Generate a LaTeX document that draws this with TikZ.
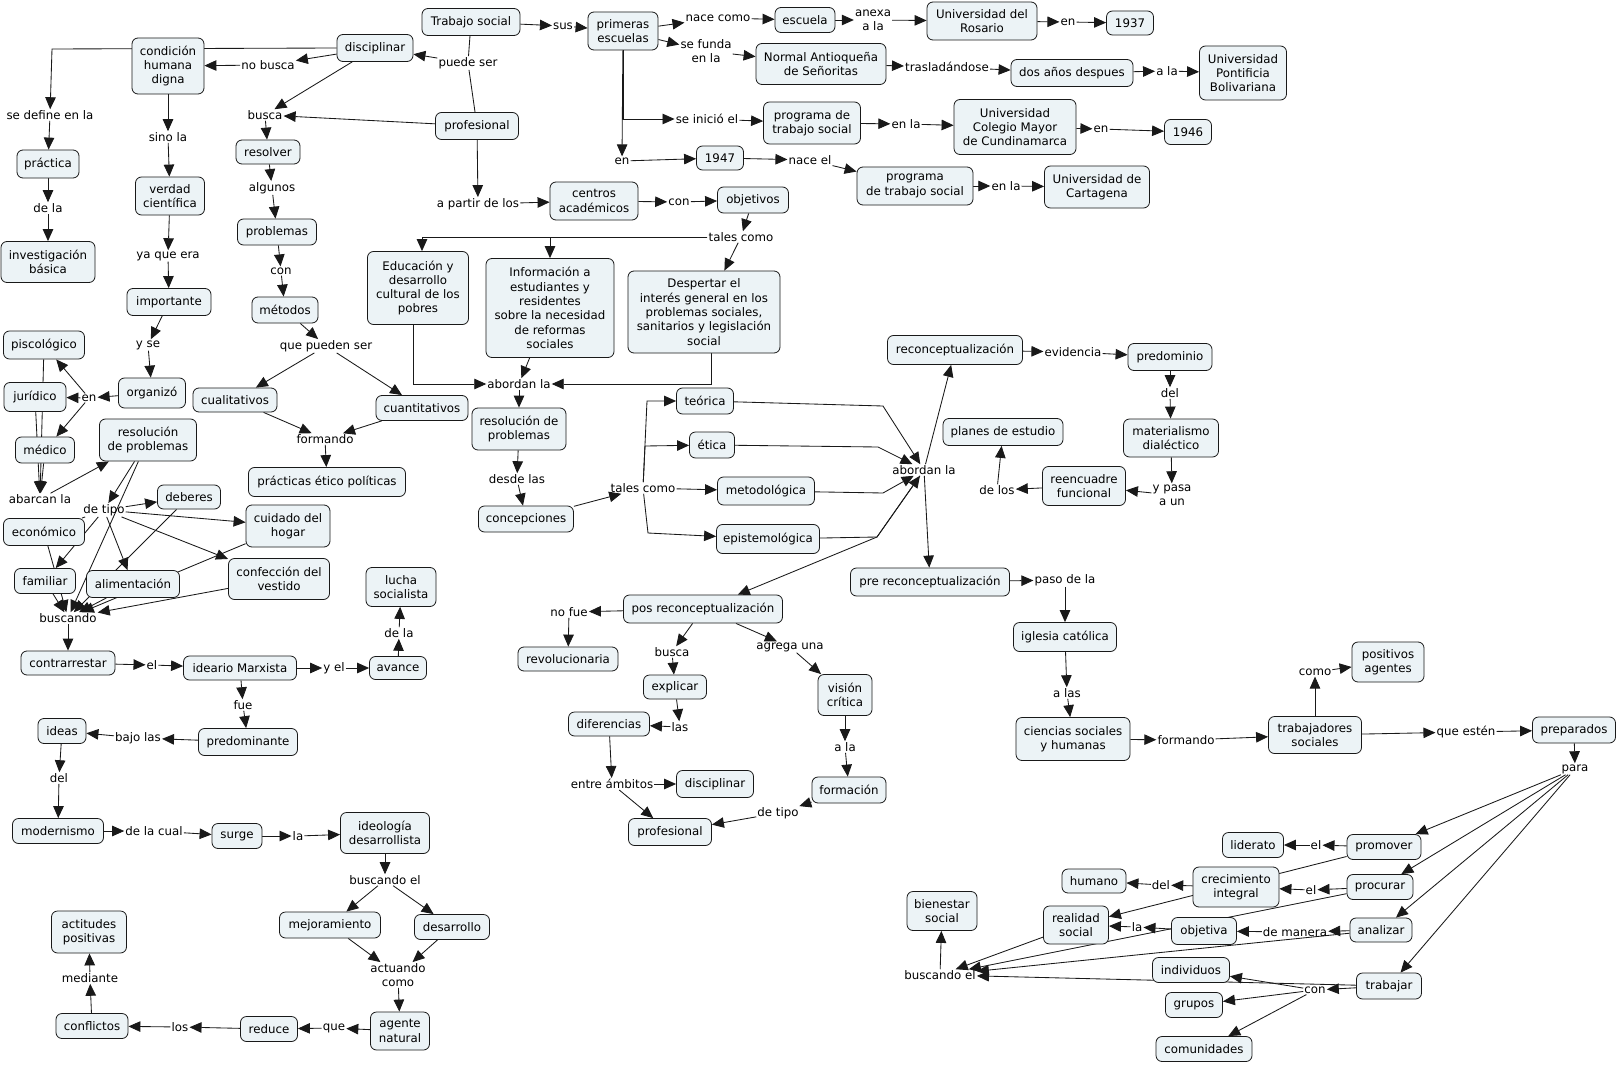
\documentclass[tikz,border=0pt]{standalone}
\usepackage{fontspec}
\setmainfont{DejaVu Sans}
\usetikzlibrary{arrows.meta}
\pgfdeclarelayer{bg}
\pgfsetlayers{bg,main}
\definecolor{cfill}{RGB}{236,243,246}
\definecolor{cline}{RGB}{25,25,25}
\newcommand\mya[2]{\draw[ar] (#1) -- (#2);}
\begin{document}
\begin{tikzpicture}[x=1pt,y=-1pt,
  cc/.style={draw=cline,line width=0.8pt,rounded corners=6pt,fill=cfill,align=center,inner sep=1pt,font=\fontsize{11.8}{14.3}\selectfont},
  sz/.style 2 args={minimum width=#1pt,minimum height=#2pt},
  lp/.style={inner sep=1pt,align=center,font=\fontsize{11.8}{14.3}\selectfont},
  ar/.style={draw=cline,line width=0.85pt,-{Triangle[length=12pt,width=10.5pt]}},
  ln/.style={draw=cline,line width=0.85pt}]
\useasboundingbox (0,0) rectangle (1618,1065);
% ---------- concepts
\node[cc,sz={98}{27}] (ts) at (471,22) {Trabajo social};
\node[cc,sz={76}{27}] (disc) at (375,48) {disciplinar};
\node[cc,sz={72}{56}] (cond) at (168,66) {condición\\humana\\digna};
\node[cc,sz={62}{28}] (prac) at (48,164) {práctica};
\node[cc,sz={94}{41}] (invb) at (48,262) {investigación\\básica};
\node[cc,sz={69}{38}] (verd) at (170,196) {verdad\\científica};
\node[cc,sz={84}{27}] (impo) at (169,302) {importante};
\node[cc,sz={83}{27}] (prof) at (477,126) {profesional};
\node[cc,sz={64}{24}] (resol) at (268,152) {resolver};
\node[cc,sz={79}{26}] (probl) at (277,232) {problemas};
\node[cc,sz={66}{26}] (meto) at (285,310) {métodos};
\node[cc,sz={81}{28}] (pisc) at (44,345) {piscológico};
\node[cc,sz={62}{29}] (jur) at (35,397) {jurídico};
\node[cc,sz={67}{30}] (orga) at (152,393) {organizó};
\node[cc,sz={59}{26}] (med) at (45,450) {médico};
\node[cc,sz={97}{42}] (resp1) at (148,440) {resolución\\de problemas};
\node[cc,sz={84}{24}] (cual) at (235,400) {cualitativos};
\node[cc,sz={92}{25}] (cuan) at (422,408) {cuantitativos};
\node[cc,sz={157}{29}] (prct) at (327,482) {prácticas ético políticas};
\node[cc,sz={63}{24}] (deb) at (189,497) {deberes};
\node[cc,sz={84}{42}] (cuid) at (288,526) {cuidado del\\hogar};
\node[cc,sz={81}{27}] (econ) at (44,532) {económico};
\node[cc,sz={61}{25}] (fam) at (45,581) {familiar};
\node[cc,sz={93}{27}] (alim) at (133,584) {alimentación};
\node[cc,sz={101}{41}] (conf) at (279,579) {confección del\\vestido};
\node[cc,sz={70}{39}] (lucha) at (401,587) {lucha\\socialista};
\node[cc,sz={94}{24}] (contr) at (68,663) {contrarrestar};
\node[cc,sz={113}{24}] (ideario) at (240,668) {ideario Marxista};
\node[cc,sz={57}{23}] (avan) at (398,668) {avance};
\node[cc,sz={99}{27}] (predte) at (248,742) {predominante};
\node[cc,sz={48}{25}] (ideas) at (62,731) {ideas};
\node[cc,sz={91}{25}] (mode) at (58,831) {modernismo};
\node[cc,sz={50}{25}] (surge) at (237,836) {surge};
\node[cc,sz={89}{41}] (ideol) at (385,833) {ideología\\desarrollista};
\node[cc,sz={101}{26}] (mejo) at (330,925) {mejoramiento};
\node[cc,sz={75}{25}] (desa) at (452,927) {desarrollo};
\node[cc,sz={59}{38}] (agen) at (400,1031) {agente\\natural};
\node[cc,sz={57}{25}] (redu) at (269,1029) {reduce};
\node[cc,sz={72}{25}] (confl) at (92,1026) {conflictos};
\node[cc,sz={75}{42}] (acti) at (89,932) {actitudes\\positivas};
\node[cc,sz={70}{38}] (prim) at (623,31) {primeras\\escuelas};
\node[cc,sz={60}{25}] (escu) at (805,20) {escuela};
\node[cc,sz={110}{38}] (udr) at (982,21) {Universidad del\\Rosario};
\node[cc,sz={47}{24}] (y1937) at (1130,23) {1937};
\node[cc,sz={130}{41}] (norm) at (821,64) {Normal Antioqueña\\de Señoritas};
\node[cc,sz={122}{27}] (dos) at (1072,73) {dos años despues};
\node[cc,sz={87}{54}] (upb) at (1243,73) {Universidad\\Pontificia\\Bolivariana};
\node[cc,sz={97}{42}] (prog1) at (812,123) {programa de\\trabajo social};
\node[cc,sz={122}{55}] (ucm) at (1015,127) {Universidad\\Colegio Mayor\\de Cundinamarca};
\node[cc,sz={47}{25}] (y1946) at (1188,132) {1946};
\node[cc,sz={47}{24}] (y1947) at (720,158) {1947};
\node[cc,sz={116}{38}] (prog2) at (915,186) {programa\\de trabajo social};
\node[cc,sz={105}{42}] (udc) at (1097,187) {Universidad de\\Cartagena};
\node[cc,sz={88}{38}] (cent) at (594,201) {centros\\académicos};
\node[cc,sz={71}{26}] (obje) at (753,200) {objetivos};
\node[cc,sz={101}{73}] (educ) at (418,288) {Educación y\\desarrollo\\cultural de los\\pobres};
\node[cc,sz={128}{99}] (info) at (550,308) {Información a\\estudiantes y\\residentes\\sobre la necesidad\\de reformas\\sociales};
\node[cc,sz={152}{82}] (desp) at (704,312) {Despertar el\\interés general en los\\problemas sociales,\\sanitarios y legislación\\social};
\node[cc,sz={94}{42}] (resp2) at (519,429) {resolución de\\problemas};
\node[cc,sz={95}{26}] (conc) at (526,519) {concepciones};
\node[cc,sz={57}{26}] (teor) at (705,401) {teórica};
\node[cc,sz={45}{26}] (etica) at (712,445) {ética};
\node[cc,sz={97}{28}] (metod) at (766,491) {metodológica};
\node[cc,sz={103}{29}] (epis) at (768,539) {epistemológica};
\node[cc,sz={135}{29}] (recon) at (955,350) {reconceptualización};
\node[cc,sz={84}{27}] (predo) at (1170,357) {predominio};
\node[cc,sz={95}{38}] (mater) at (1171,438) {materialismo\\dialéctico};
\node[cc,sz={83}{39}] (reenc) at (1084,486) {reencuadre\\funcional};
\node[cc,sz={120}{27}] (planes) at (1003,432) {planes de estudio};
\node[cc,sz={159}{28}] (prer) at (930,582) {pre reconceptualización};
\node[cc,sz={103}{29}] (igle) at (1065,637) {iglesia católica};
\node[cc,sz={159}{28}] (posr) at (703,609) {pos reconceptualización};
\node[cc,sz={100}{24}] (revo) at (568,659) {revolucionaria};
\node[cc,sz={63}{24}] (expl) at (675,687) {explicar};
\node[cc,sz={54}{41}] (vision) at (845,695) {visión\\crítica};
\node[cc,sz={81}{24}] (difer) at (609,724) {diferencias};
\node[cc,sz={77}{27}] (disc2) at (715,784) {disciplinar};
\node[cc,sz={83}{27}] (prof2) at (670,832) {profesional};
\node[cc,sz={74}{26}] (form) at (849,790) {formación};
\node[cc,sz={114}{43}] (cien) at (1073,739) {ciencias sociales\\y humanas};
\node[cc,sz={93}{37}] (trab) at (1315,735) {trabajadores\\sociales};
\node[cc,sz={72}{40}] (posit) at (1388,662) {positivos\\agentes};
\node[cc,sz={83}{26}] (prep) at (1574,730) {preparados};
\node[cc,sz={74}{25}] (promo) at (1384,847) {promover};
\node[cc,sz={61}{25}] (lider) at (1253,845) {liderato};
\node[cc,sz={66}{25}] (procu) at (1380,887) {procurar};
\node[cc,sz={86}{40}] (creci) at (1236,887) {crecimiento\\integral};
\node[cc,sz={64}{24}] (human) at (1094,881) {humano};
\node[cc,sz={62}{24}] (anal) at (1381,930) {analizar};
\node[cc,sz={65}{27}] (objv) at (1204,931) {objetiva};
\node[cc,sz={65}{38}] (real) at (1076,925) {realidad\\social};
\node[cc,sz={70}{39}] (bien) at (942,911) {bienestar\\social};
\node[cc,sz={77}{25}] (indiv) at (1191,970) {individuos};
\node[cc,sz={57}{25}] (grup) at (1194,1005) {grupos};
\node[cc,sz={96}{25}] (comu) at (1204,1049) {comunidades};
\node[cc,sz={65}{26}] (trabj) at (1389,986) {trabajar};
% ---------- linking phrases
\node[lp] (Lnobusca) at (268,65) {no busca};
\node[lp] (Lsedef) at (50,115) {se define en la};
\node[lp] (Ldela1) at (48,208) {de la};
\node[lp] (Lsino) at (168,137) {sino la};
\node[lp] (Lyaque) at (168,256) {ya que era};
\node[lp] (Lyse) at (148,345) {y se};
\node[lp] (Lbusca1) at (265,115) {busca};
\node[lp] (Lalgunos) at (272,188) {algunos};
\node[lp] (Lcon1) at (281,271) {con};
\node[lp] (Lquepued) at (326,346) {que pueden ser};
\node[lp] (Lpuede) at (468,63) {puede ser};
\node[lp] (Lsus) at (563,26) {sus};
\node[lp] (Lnacecomo) at (718,18) {nace como};
\node[lp] (Lsefunda) at (706,51) {se funda\\en la};
\node[lp] (Lanexa) at (873,20) {anexa\\a la};
\node[lp] (Len1) at (1068,22) {en};
\node[lp] (Ltrasl) at (947,67) {trasladándose};
\node[lp] (Lala1) at (1167,71) {a la};
\node[lp] (Lseinicio) at (707,119) {se inició el};
\node[lp] (Lenla1) at (906,124) {en la};
\node[lp] (Len2) at (1101,129) {en};
\node[lp] (Len3) at (622,161) {en};
\node[lp] (Lnaceel) at (810,160) {nace el};
\node[lp] (Lenla2) at (1006,186) {en la};
\node[lp] (Lapartir) at (478,204) {a partir de los};
\node[lp] (Lcon2) at (679,202) {con};
\node[lp] (Ltales1) at (741,237) {tales como};
\node[lp] (Len4) at (89,398) {en};
\node[lp] (Labarcan) at (40,499) {abarcan la};
\node[lp] (Ldetipo1) at (104,510) {de tipo};
\node[lp] (Lformando1) at (325,439) {formando};
\node[lp] (Lbuscando1) at (68,618) {buscando};
\node[lp] (Lel1) at (152,665) {el};
\node[lp] (Lyel) at (334,668) {y el};
\node[lp] (Ldela2) at (399,633) {de la};
\node[lp] (Lfue) at (243,705) {fue};
\node[lp] (Lbajo) at (138,738) {bajo las};
\node[lp] (Ldel1) at (59,778) {del};
\node[lp] (Ldelacual) at (154,831) {de la cual};
\node[lp] (Lla1) at (298,836) {la};
\node[lp] (Lbuscandoel1) at (385,880) {buscando el};
\node[lp] (Lactuando) at (398,975) {actuando\\como};
\node[lp] (Lque) at (334,1028) {que};
\node[lp] (Llos) at (180,1027) {los};
\node[lp] (Lmediante) at (90,978) {mediante};
\node[lp] (Labordan1) at (519,384) {abordan la};
\node[lp] (Ldesde) at (517,479) {desde las};
\node[lp] (Ltales2) at (643,488) {tales como};
\node[lp] (Labordan2) at (924,470) {abordan la};
\node[lp] (Levid) at (1073,352) {evidencia};
\node[lp] (Ldel2) at (1170,393) {del};
\node[lp] (Lypasa) at (1172,495) {y pasa\\a un};
\node[lp] (Ldelos) at (997,490) {de los};
\node[lp] (Lpaso) at (1065,580) {paso de la};
\node[lp] (Lalas) at (1067,693) {a las};
\node[lp] (Lnofue) at (569,612) {no fue};
\node[lp] (Lbusca2) at (672,652) {busca};
\node[lp] (Lagrega) at (790,647) {agrega una};
\node[lp] (Llas) at (680,727) {las};
\node[lp] (Lentre) at (612,784) {entre ámbitos};
\node[lp] (Ldetipo2) at (778,813) {de tipo};
\node[lp] (Lala2) at (845,747) {a la};
\node[lp] (Lformando2) at (1186,740) {formando};
\node[lp] (Lcomo) at (1315,672) {como};
\node[lp] (Lqueesten) at (1466,732) {que estén};
\node[lp] (Lpara) at (1575,769) {para};
\node[lp] (Lel2) at (1316,845) {el};
\node[lp] (Lel3) at (1311,890) {el};
\node[lp] (Ldel3) at (1161,885) {del};
\node[lp] (Ldemanera) at (1295,932) {de manera};
\node[lp] (Lla2) at (1137,927) {la};
\node[lp] (Lbuscandoel2) at (940,975) {buscando el};
\node[lp] (Lcon3) at (1315,990) {con};
% ---------- connectors
\begin{pgfonlayer}{bg}
\fill[white] (0,0) rectangle (1618,1065);
\draw[ln] (ts) -- (Lpuede);
\mya{Lpuede}{disc}
\draw[ln] (Lpuede) -- (prof);
\mya{ts}{Lsus}
\mya{Lsus}{prim}
\mya{disc}{Lnobusca}
\mya{Lnobusca}{cond}
\draw[ar] (disc.west) -- (52,49) -- (Lsedef);
\mya{disc}{Lbusca1}
\mya{prof}{Lbusca1}
\mya{Lsedef}{prac}
\mya{prac}{Ldela1}
\mya{Ldela1}{invb}
\mya{cond}{Lsino}
\mya{Lsino}{verd}
\mya{verd}{Lyaque}
\mya{Lyaque}{impo}
\mya{impo}{Lyse}
\mya{Lyse}{orga}
\mya{Lbusca1}{resol}
\mya{resol}{Lalgunos}
\mya{Lalgunos}{probl}
\mya{probl}{Lcon1}
\mya{Lcon1}{meto}
\mya{meto}{Lquepued}
\mya{Lquepued}{cual}
\mya{Lquepued}{cuan}
\mya{cual}{Lformando1}
\mya{cuan}{Lformando1}
\mya{Lformando1}{prct}
\mya{orga}{Len4}
\mya{Len4}{pisc}
\mya{Len4}{jur}
\mya{Len4}{med}
\mya{pisc}{Labarcan}
\mya{jur}{Labarcan}
\mya{med}{Labarcan}
\mya{Labarcan}{resp1}
\mya{resp1}{Ldetipo1}
\mya{resp1}{Lbuscando1}
\mya{Ldetipo1}{deb}
\mya{Ldetipo1}{cuid}
\mya{Ldetipo1}{conf}
\mya{Ldetipo1}{alim}
\mya{Ldetipo1}{fam}
\draw[ln] (Ldetipo1) -- (econ);
\mya{econ}{Lbuscando1}
\mya{fam}{Lbuscando1}
\mya{alim}{Lbuscando1}
\mya{deb}{Lbuscando1}
\mya{cuid}{Lbuscando1}
\mya{conf}{Lbuscando1}
\mya{Lbuscando1}{contr}
\mya{contr}{Lel1}
\mya{Lel1}{ideario}
\mya{ideario}{Lyel}
\mya{Lyel}{avan}
\mya{avan}{Ldela2}
\mya{Ldela2}{lucha}
\mya{ideario}{Lfue}
\mya{Lfue}{predte}
\mya{predte}{Lbajo}
\mya{Lbajo}{ideas}
\mya{ideas}{Ldel1}
\mya{Ldel1}{mode}
\mya{mode}{Ldelacual}
\mya{Ldelacual}{surge}
\mya{surge}{Lla1}
\mya{Lla1}{ideol}
\mya{ideol}{Lbuscandoel1}
\mya{Lbuscandoel1}{mejo}
\mya{Lbuscandoel1}{desa}
\mya{mejo}{Lactuando}
\mya{desa}{Lactuando}
\mya{Lactuando}{agen}
\mya{agen}{Lque}
\mya{Lque}{redu}
\mya{redu}{Llos}
\mya{Llos}{confl}
\mya{confl}{Lmediante}
\mya{Lmediante}{acti}
\mya{prim}{Lnacecomo}
\mya{Lnacecomo}{escu}
\mya{escu}{Lanexa}
\mya{Lanexa}{udr}
\mya{udr}{Len1}
\mya{Len1}{y1937}
\mya{prim}{Lsefunda}
\mya{Lsefunda}{norm}
\mya{norm}{Ltrasl}
\mya{Ltrasl}{dos}
\mya{dos}{Lala1}
\mya{Lala1}{upb}
\draw[ar] (prim.south) |- (Lseinicio);
\mya{Lseinicio}{prog1}
\mya{prog1}{Lenla1}
\mya{Lenla1}{ucm}
\mya{ucm}{Len2}
\mya{Len2}{y1946}
\mya{prim}{Len3}
\mya{Len3}{y1947}
\mya{y1947}{Lnaceel}
\mya{Lnaceel}{prog2}
\mya{prog2}{Lenla2}
\mya{Lenla2}{udc}
\mya{prof}{Lapartir}
\mya{Lapartir}{cent}
\mya{cent}{Lcon2}
\mya{Lcon2}{obje}
\mya{obje}{Ltales1}
\draw[ar] (Ltales1.west) -| ([xshift=4pt]educ.north);
\draw[ar] (Ltales1.west) -| (info.north);
\mya{Ltales1}{desp}
\draw[ar] ([xshift=-5pt]educ.south) |- (Labordan1);
\mya{info}{Labordan1}
\draw[ar] ([xshift=7pt]desp.south) |- (Labordan1);
\mya{Labordan1}{resp2}
\mya{resp2}{Ldesde}
\mya{Ldesde}{conc}
\mya{conc}{Ltales2}
\draw[ar] (Ltales2) -- (647,401) -- (teor);
\draw[ar] (Ltales2) -- (645,446) -- (etica);
\mya{Ltales2}{metod}
\draw[ar] (Ltales2) -- (648,533) -- (epis);
\draw[ar] (teor) -- (883,406) -- (Labordan2);
\draw[ar] (etica) -- (878,447) -- (Labordan2);
\draw[ar] (metod) -- (883,493) -- (Labordan2);
\draw[ar] (epis) -- (877,537) -- (Labordan2);
\draw[ar] (Labordan2) -- (877,537) -- (posr);
\mya{Labordan2}{recon}
\mya{Labordan2}{prer}
\mya{recon}{Levid}
\mya{Levid}{predo}
\mya{predo}{Ldel2}
\mya{Ldel2}{mater}
\mya{mater}{Lypasa}
\mya{Lypasa}{reenc}
\mya{reenc}{Ldelos}
\mya{Ldelos}{planes}
\mya{prer}{Lpaso}
\mya{Lpaso}{igle}
\mya{igle}{Lalas}
\mya{Lalas}{cien}
\mya{cien}{Lformando2}
\mya{Lformando2}{trab}
\mya{trab}{Lcomo}
\mya{Lcomo}{posit}
\mya{trab}{Lqueesten}
\mya{Lqueesten}{prep}
\mya{prep}{Lpara}
\mya{Lpara}{promo}
\mya{Lpara}{procu}
\mya{Lpara}{anal}
\mya{Lpara}{trabj}
\mya{promo}{Lel2}
\mya{Lel2}{lider}
\mya{promo}{real}
\mya{procu}{Lel3}
\mya{Lel3}{creci}
\mya{creci}{Ldel3}
\mya{Ldel3}{human}
\mya{procu}{Lbuscandoel2}
\mya{anal}{Ldemanera}
\mya{Ldemanera}{objv}
\mya{anal}{Lbuscandoel2}
\mya{objv}{Lla2}
\mya{Lla2}{real}
\mya{real}{Lbuscandoel2}
\mya{trabj}{Lcon3}
\mya{trabj}{Lbuscandoel2}
\mya{Lcon3}{indiv}
\mya{Lcon3}{grup}
\mya{Lcon3}{comu}
\mya{Lbuscandoel2}{bien}
\mya{posr}{Lnofue}
\mya{Lnofue}{revo}
\mya{posr}{Lbusca2}
\mya{Lbusca2}{expl}
\mya{expl}{Llas}
\mya{Llas}{difer}
\mya{difer}{Lentre}
\mya{Lentre}{disc2}
\mya{Lentre}{prof2}
\mya{posr}{Lagrega}
\mya{Lagrega}{vision}
\mya{vision}{Lala2}
\mya{Lala2}{form}
\mya{form}{Ldetipo2}
\mya{Ldetipo2}{prof2}
\end{pgfonlayer}
\end{tikzpicture}
\end{document}
